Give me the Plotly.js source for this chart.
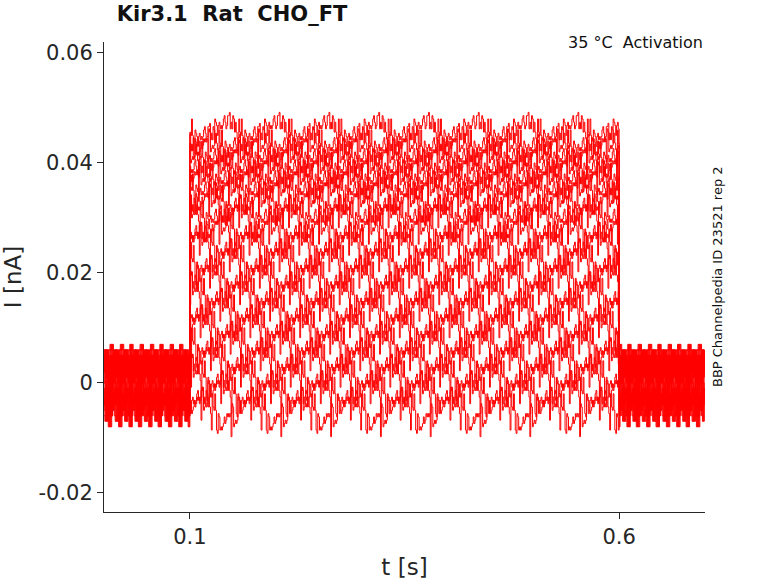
<!DOCTYPE html>
<html><head><meta charset="utf-8">
<script src="https://cdn.plot.ly/plotly-3.0.1.min.js"></script>
<style>body{margin:0}#plot{width:778px;height:583px}</style>
</head><body><div id="plot"></div>
<script>
// step levels of each sweep during the pulse (nA)
const sweepLevels = [-0.005, -0.002, 0.001, 0.004, 0.007, 0.010, 0.013, 0.016, 0.019, 0.022,
  0.025, 0.028, 0.030, 0.033, 0.035, 0.037, 0.039, 0.041, 0.043, 0.045];
const pulseStart = 0.1;
const pulseEnd = 0.6;
const sampleTimes = [];
for (let t = 0; t <= 0.7; t += 0.001) sampleTimes.push(+t.toFixed(4));
const noiseSample = [0.002, -0.004, 0.005, -0.001, 0.003, -0.006, 0.001, 0.004, -0.003, 0.006,
  -0.002, 0.000, 0.005, -0.005, 0.002, -0.001, 0.004, -0.006, 0.003, 0.001,
  -0.004, 0.006, -0.002, 0.002, -0.005, 0.004, 0.000, -0.003, 0.005, -0.001,
  0.003, -0.006, 0.002, 0.005, -0.004, 0.001, -0.002, 0.006, -0.005, 0.003,
  0.000, -0.003, 0.004, -0.001, 0.006, -0.004, 0.002, -0.006, 0.005, 0.001, -0.008,
  0.007, -0.002, 0.003, -0.007, 0.004, -0.001, 0.002];
const pulseNoiseScale = 0.6;

const traces = sweepLevels.map((lvl, k) => ({
  x: sampleTimes,
  y: sampleTimes.map((t, i) => {
    const n = noiseSample[(i * 7 + k * 13) % noiseSample.length];
    const on = t >= pulseStart && t < pulseEnd;
    return on ? lvl + n * pulseNoiseScale : n;
  }),
  mode: 'lines',
  line: { color: '#ff0000', width: 1, shape: 'hv' },
  showlegend: false
}));

const axisFont = { family: 'DejaVu Sans', size: 21, color: '#262626' };
const layout = {
  width: 778, height: 583,
  paper_bgcolor: '#fff', plot_bgcolor: '#fff',
  margin: { l: 104, r: 73, t: 42, b: 71 },
  title: { text: '<b>Kir3.1  Rat  CHO_FT</b>', x: 0.15, xanchor: 'left', y: 0.99, yanchor: 'top',
    font: { family: 'DejaVu Sans', size: 21, color: '#111' } },
  xaxis: {
    range: [0, 0.7], tickvals: [0.1, 0.6], ticktext: ['0.1', '0.6'],
    showgrid: false, zeroline: false, showline: true, linecolor: '#262626',
    ticks: 'outside', ticklen: 6, tickcolor: '#262626', tickfont: axisFont,
    title: { text: 't [s]', font: { family: 'DejaVu Sans', size: 23, color: '#262626' }, standoff: 10 }
  },
  yaxis: {
    range: [-0.0235, 0.062], tickvals: [-0.02, 0, 0.02, 0.04, 0.06],
    ticktext: ['-0.02', '0', '0.02', '0.04', '0.06'],
    showgrid: false, zeroline: false, showline: true, linecolor: '#262626',
    ticks: 'outside', ticklen: 6, tickcolor: '#262626', tickfont: axisFont,
    title: { text: 'I [nA]', font: { family: 'DejaVu Sans', size: 23, color: '#262626' }, standoff: 12 }
  },
  annotations: [
    { text: '35 °C  Activation', xref: 'paper', yref: 'paper', x: 1, y: 1, xanchor: 'right', yanchor: 'bottom',
      yshift: -12, showarrow: false, font: { family: 'DejaVu Sans', size: 16, color: '#111' } },
    { text: 'BBP Channelpedia ID 23521 rep 2', xref: 'paper', yref: 'paper', x: 1.02, y: 0.5,
      textangle: -90, showarrow: false, xanchor: 'center', yanchor: 'middle',
      font: { family: 'DejaVu Sans', size: 13, color: '#111' } }
  ]
};
Plotly.newPlot('plot', traces, layout, { displayModeBar: false, staticPlot: true });
</script></body></html>
